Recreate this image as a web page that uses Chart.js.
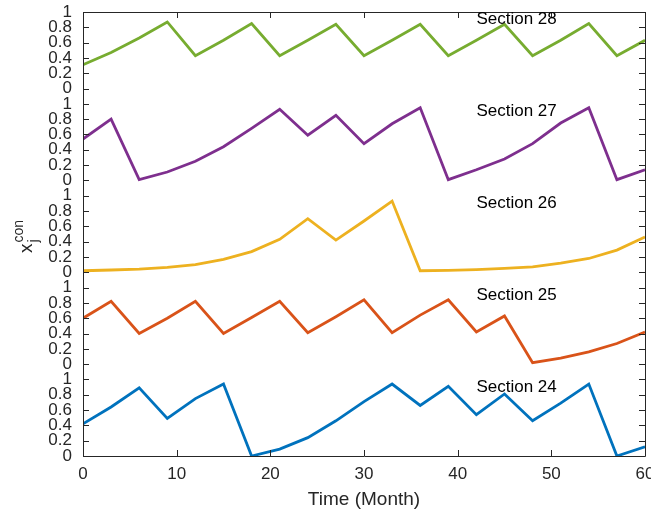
<!DOCTYPE html>
<html>
<head>
<meta charset="utf-8">
<script src="https://cdn.jsdelivr.net/npm/chart.js@4.4.1/dist/chart.umd.min.js"></script>
<style>
    html, body { margin: 0; padding: 0; background: #fff; }
    #wrap { width: 651px; height: 511px; }
</style>
</head>
<body>
<div id="wrap"><canvas id="sections-chart"></canvas></div>
<script>
const months = [0, 3, 6, 9, 12, 15, 18, 21, 24, 27, 30, 33, 36, 39, 42, 45, 48, 51, 54, 57, 60];

const sectionNames = ['Section 24', 'Section 25', 'Section 26', 'Section 27', 'Section 28'];

const section24 = [0.42, 0.64, 0.89, 0.49, 0.75, 0.94, 0.00, 0.09, 0.24, 0.46, 0.71, 0.94, 0.66, 0.91, 0.54, 0.81, 0.46, 0.69, 0.94, 0.00, 0.12];
const section25 = [0.60, 0.82, 0.40, 0.60, 0.82, 0.40, 0.61, 0.82, 0.41, 0.62, 0.84, 0.41, 0.64, 0.84, 0.42, 0.63, 0.02, 0.08, 0.16, 0.27, 0.42];
const section26 = [0.02, 0.03, 0.04, 0.065, 0.10, 0.17, 0.27, 0.43, 0.70, 0.42, 0.67, 0.93, 0.02, 0.025, 0.035, 0.05, 0.07, 0.12, 0.18, 0.29, 0.46];
const section27 = [0.54, 0.80, 0.01, 0.11, 0.25, 0.44, 0.68, 0.93, 0.59, 0.85, 0.48, 0.74, 0.95, 0.01, 0.14, 0.28, 0.48, 0.75, 0.95, 0.01, 0.14];
const section28 = [0.31, 0.47, 0.66, 0.87, 0.43, 0.63, 0.85, 0.43, 0.63, 0.84, 0.43, 0.63, 0.84, 0.43, 0.63, 0.84, 0.43, 0.63, 0.85, 0.43, 0.63];

const sectionSeries = [section24, section25, section26, section27, section28];
const sectionColors = ['#0072BD', '#D95319', '#EDB120', '#7E2F8E', '#77AC30'];

const xTickValues = [0, 10, 20, 30, 40, 50, 60];
const yTickLabels = ['0', '0.2', '0.4', '0.6', '0.8', '1'];

// every section sits in its own 0..1 band, bands are 1.2 apart
const bandStep = 1.2;
const labelMonth = 42;
const labelLevel = 0.9;

const axisColor = '#262626';
const fontFamily = "'Liberation Sans', Arial, Helvetica, sans-serif";

const datasets = [];
for (let i = 0; i < sectionSeries.length; i++) {
    datasets.push({
        label: sectionNames[i],
        data: months.map((m, j) => ({ x: m, y: sectionSeries[i][j] + i * bandStep })),
        borderColor: sectionColors[i],
        borderWidth: 2.8,
        pointRadius: 0,
        tension: 0,
        fill: false,
    });
}

// box around the plot with inward ticks, like the original figure
const boxPlugin = {
    id: 'boxTicks',
    afterDatasetsDraw(chart) {
        const ctx = chart.ctx;
        const area = chart.chartArea;
        const xs = chart.scales.x;
        const ys = chart.scales.y;
        ctx.save();
        ctx.strokeStyle = axisColor;
        ctx.lineWidth = 1;
        ctx.beginPath();
        ctx.rect(Math.round(area.left) + 0.5, Math.round(area.top) + 0.5,
            Math.round(area.right - area.left), Math.round(area.bottom - area.top));
        for (const v of xTickValues) {
            const px = Math.round(xs.getPixelForValue(v)) + 0.5;
            ctx.moveTo(px, area.bottom);
            ctx.lineTo(px, area.bottom - 6);
            ctx.moveTo(px, area.top);
            ctx.lineTo(px, area.top + 6);
        }
        for (const t of ys.ticks) {
            const py = Math.round(ys.getPixelForValue(t.value)) + 0.5;
            ctx.moveTo(area.left, py);
            ctx.lineTo(area.left + 6, py);
            ctx.moveTo(area.right, py);
            ctx.lineTo(area.right - 6, py);
        }
        ctx.stroke();

        // section names
        ctx.fillStyle = '#000';
        ctx.font = '17px ' + fontFamily;
        ctx.textAlign = 'left';
        ctx.textBaseline = 'middle';
        for (let i = 0; i < sectionNames.length; i++) {
            ctx.fillText(sectionNames[i], xs.getPixelForValue(labelMonth),
                ys.getPixelForValue(i * bandStep + labelLevel));
        }

        // y title: x with subscript j and superscript con
        ctx.translate(32, 253);
        ctx.rotate(-Math.PI / 2);
        ctx.fillStyle = axisColor;
        ctx.textBaseline = 'alphabetic';
        ctx.font = '19px ' + fontFamily;
        ctx.fillText('x', 0, 0);
        const w = ctx.measureText('x').width + 1;
        ctx.font = '14px ' + fontFamily;
        ctx.fillText('con', w, -9);
        ctx.fillText('j', w, 6);
        ctx.restore();
    }
};

const canvas = document.getElementById('sections-chart');
const sectionsChart = new Chart(canvas.getContext('2d'), {
    type: 'line',
    data: { datasets: datasets },
    options: {
        responsive: true,
        maintainAspectRatio: false,
        animation: false,
        layout: { padding: { top: 12, right: 6, left: 0, bottom: 0 } },
        scales: {
            x: {
                type: 'linear',
                min: 0,
                max: 60,
                ticks: {
                    stepSize: 10,
                    color: axisColor,
                    padding: 8,
                    font: { size: 17, family: fontFamily }
                },
                grid: { display: false, drawTicks: false },
                border: { display: false },
                title: {
                    display: true,
                    text: 'Time (Month)',
                    color: axisColor,
                    font: { size: 19, family: fontFamily },
                    padding: { top: 0, bottom: 0 }
                },
                afterFit(scale) {
                    scale.height = 55;
                    scale.paddingLeft = 0;
                    scale.paddingRight = 0;
                }
            },
            y: {
                min: 0,
                max: 5.8,
                ticks: {
                    stepSize: 0.2,
                    autoSkip: false,
                    maxTicksLimit: 100,
                    color: axisColor,
                    padding: 11,
                    font: { size: 17, family: fontFamily },
                    callback: (value) => yTickLabels[Math.round(value / 0.2) % 6]
                },
                grid: { display: false, drawTicks: false },
                border: { display: false },
                afterFit(scale) {
                    scale.width = 83;
                    scale.paddingTop = 0;
                    scale.paddingBottom = 0;
                }
            }
        },
        plugins: {
            legend: { display: false },
            tooltip: { enabled: false }
        }
    },
    plugins: [boxPlugin]
});
</script>
</body>
</html>
